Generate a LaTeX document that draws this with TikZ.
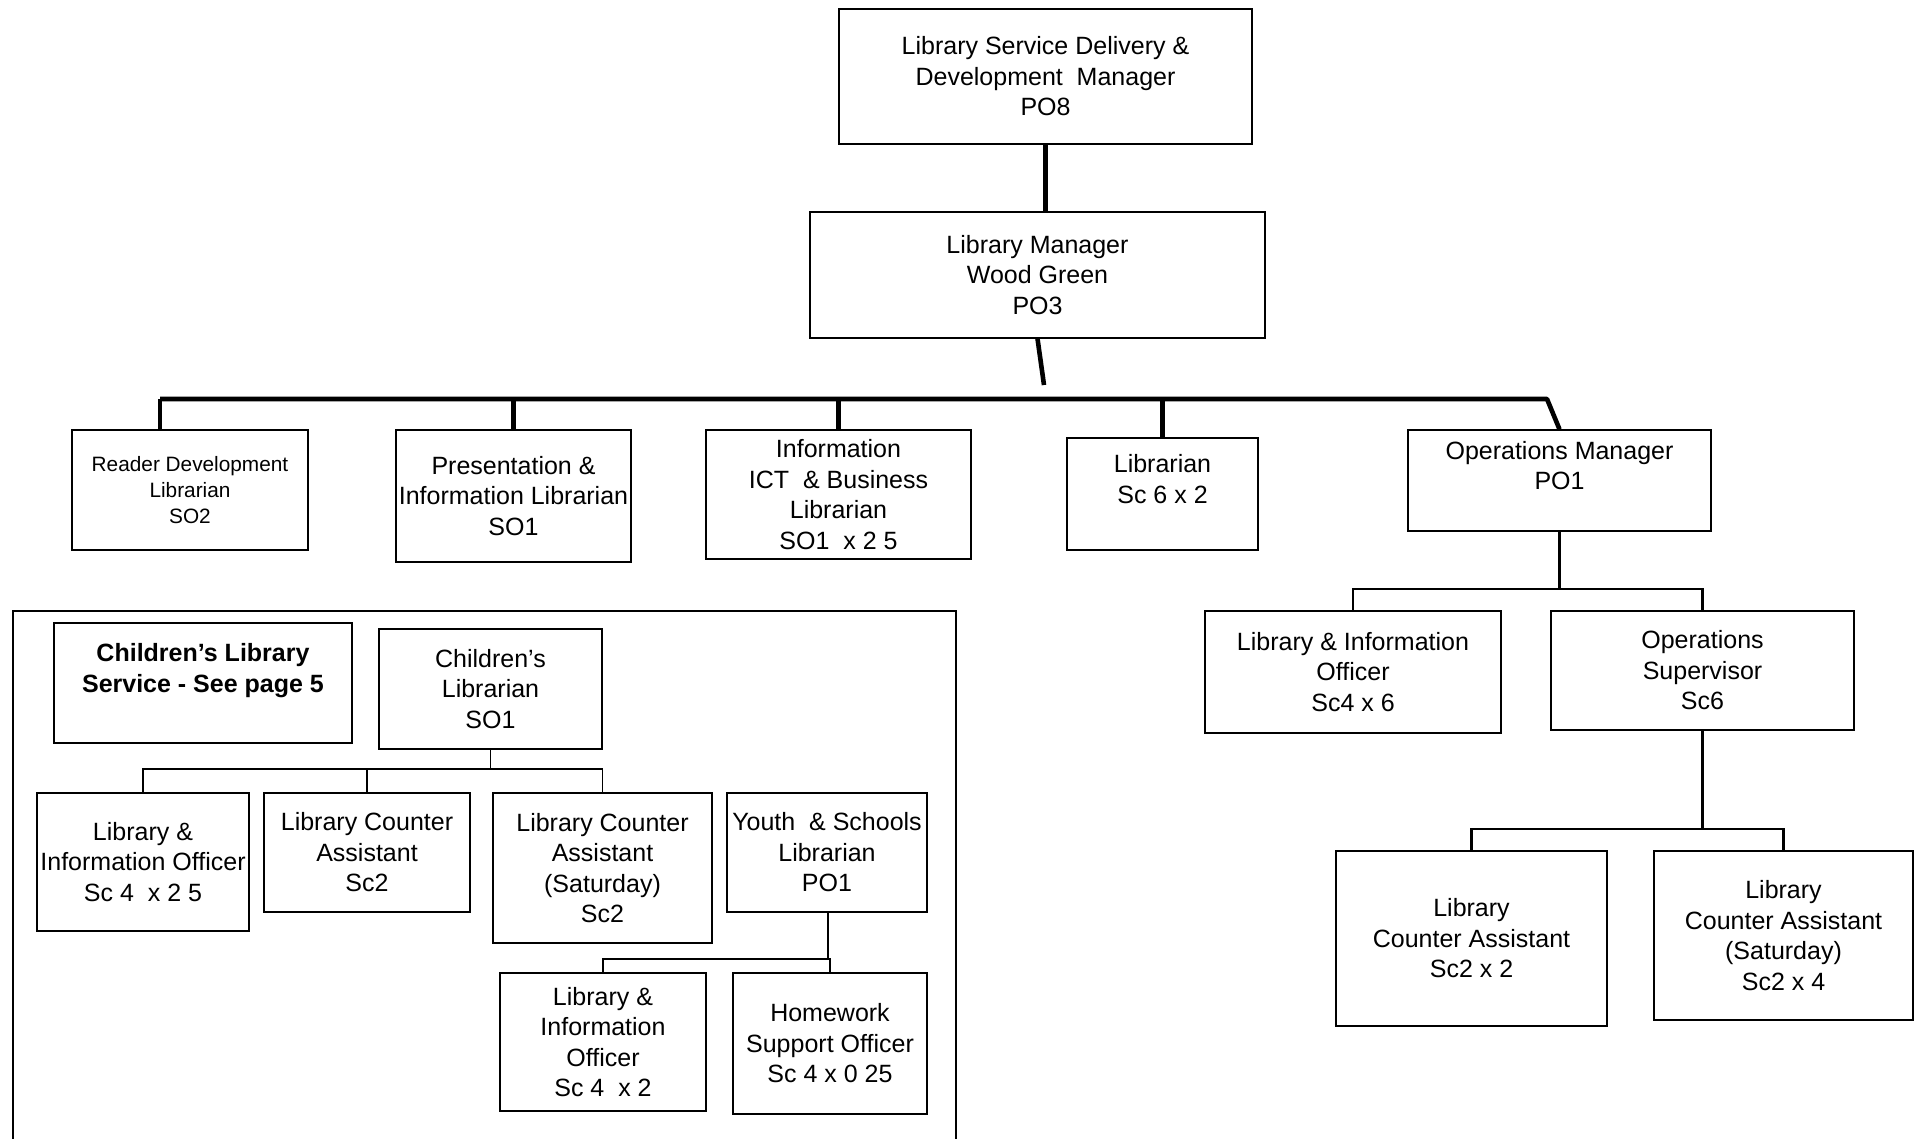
\documentclass[tikz,border=0pt]{standalone}
\usepackage{fontspec}
\setmainfont{Liberation Sans}
\usetikzlibrary{calc}
\begin{document}
\begin{tikzpicture}[x=0.5pt,y=-0.5pt,
  box/.style={draw, line width=0.7pt, inner sep=0pt, align=center,
    font=\fontsize{12.5}{15.25}\selectfont},
  smallbox/.style={box, font=\fontsize{10.4}{12.8}\selectfont},
  heavy/.style={line width=2.3pt},
  mid/.style={line width=1.1pt},
  thin/.style={line width=0.7pt}]
\useasboundingbox (0,0) rectangle (1915,1139);
% top levels
\node[box, minimum width=206.5pt, minimum height=67.5pt] (top) at (1045.5,76.5)
  {Library Service Delivery \&\\Development \ Manager\\PO8};
\node[box, minimum width=227.5pt, minimum height=63pt] (lm) at (1037.5,275)
  {Library Manager\\Wood Green\\PO3};
% third row
\node[smallbox, minimum width=118pt, minimum height=60pt] (rd) at (190,490)
  {Reader Development\\Librarian\\SO2};
\node[box, minimum width=117.5pt, minimum height=66pt] (pr) at (513.5,496)
  {Presentation \&\\Information Librarian\\SO1};
\node[box, minimum width=132.5pt, minimum height=64.5pt] (inf) at (838.5,494.5)
  {Information\\ICT \ \& Business\\Librarian\\SO1 \ x 2 5};
\node[box, minimum width=95.5pt, minimum height=56pt] (lib) at (1162.5,494)
  {Librarian\\Sc 6 x 2\\\mbox{}};
\node[box, minimum width=151.5pt, minimum height=50.5pt] (om) at (1559.5,480.5)
  {Operations Manager\\PO1\\\mbox{}};
% right branch
\node[box, minimum width=148pt, minimum height=61pt] (lior) at (1353,672)
  {Library \& Information\\Officer\\Sc4 x 6};
\node[box, minimum width=151.5pt, minimum height=59.5pt] (os) at (1702.5,670.5)
  {Operations\\Supervisor\\Sc6};
\node[box, minimum width=135.5pt, minimum height=87.5pt] (lcar) at (1471.5,938.5)
  {Library\\Counter Assistant\\Sc2 x 2};
\node[box, minimum width=129.5pt, minimum height=84.5pt] (lcasr) at (1783.5,935.5)
  {Library\\Counter Assistant\\(Saturday)\\Sc2 x 4};
% left frame
\coordinate (fbl) at (13,1150);
\coordinate (ftl) at (13,611);
\coordinate (ftr) at (956,611);
\coordinate (fbr) at (956,1150);
\draw[line width=0.8pt] (fbl) -- (ftl) -- (ftr) -- (fbr);
\node[box, minimum width=149pt, minimum height=60pt, font=\fontsize{12.5}{15.25}\selectfont\bfseries] (cls) at (203,683)
  {Children’s Library\\Service - See page 5\\\mbox{}};
\node[box, minimum width=111.5pt, minimum height=60pt] (cl) at (490.5,689)
  {Children’s\\Librarian\\SO1};
\node[box, minimum width=106pt, minimum height=69pt] (liol) at (143,862)
  {Library \&\\Information Officer\\Sc 4 \ x 2 5};
\node[box, minimum width=103pt, minimum height=59.5pt] (lcal) at (367,852.5)
  {Library Counter\\Assistant\\Sc2};
\node[box, minimum width=109.5pt, minimum height=75pt] (lcasl) at (602.5,868)
  {Library Counter\\Assistant\\(Saturday)\\Sc2};
\node[box, minimum width=100pt, minimum height=59.5pt] (ys) at (827,852.5)
  {Youth \ \& Schools\\Librarian\\PO1};
\node[box, minimum width=103pt, minimum height=69pt] (liob) at (603,1042)
  {Library \&\\Information\\Officer\\Sc 4 \ x 2};
\node[box, minimum width=97pt, minimum height=70.5pt] (hw) at (830,1043.5)
  {Homework\\Support Officer\\Sc 4 x 0 25};
% connectors: top
\draw[heavy] (top.south) -- (top.south |- lm.north);
\coordinate (lmend) at (1044,385);
\draw[heavy] (lm.south) -- (lmend);
\coordinate (bus) at (0,399);
\coordinate (busend) at (1547,399);
\draw[heavy, line join=round] ([xshift=-15pt]rd.north |- bus) -- (busend) -- (om.north);
\draw[heavy] ([xshift=-15pt]rd.north) -- ([xshift=-15pt]rd.north |- bus);
\draw[heavy] (pr.north) -- (pr.north |- bus);
\draw[heavy] (inf.north) -- (inf.north |- bus);
\draw[heavy] (lib.north) -- (lib.north |- bus);
% right branch connectors
\coordinate (r1) at (0,589);
\draw[mid] (om.south) -- (om.south |- r1);
\draw[mid] (lior.north) |- (om.south |- r1) -| (os.north);
\coordinate (r2) at (0,829);
\draw[mid] (os.south) -- (os.south |- r2);
\draw[mid] (lcar.north) |- (os.south |- r2) -| (lcasr.north);
% left branch connectors
\coordinate (l1) at (0,769);
\draw[thin] (cl.south) -- (cl.south |- l1);
\draw[thin] (liol.north) |- (cl.south |- l1) -| (lcasl.north);
\draw[thin] (lcal.north) -- (lcal.north |- l1);
\coordinate (l2) at (0,959);
\draw[thin] ([xshift=0.5pt]ys.south) -- ([xshift=0.5pt]ys.south |- l2);
\draw[thin] (liob.north) |- (hw.north |- l2) -- (hw.north);
\end{tikzpicture}
\end{document}
